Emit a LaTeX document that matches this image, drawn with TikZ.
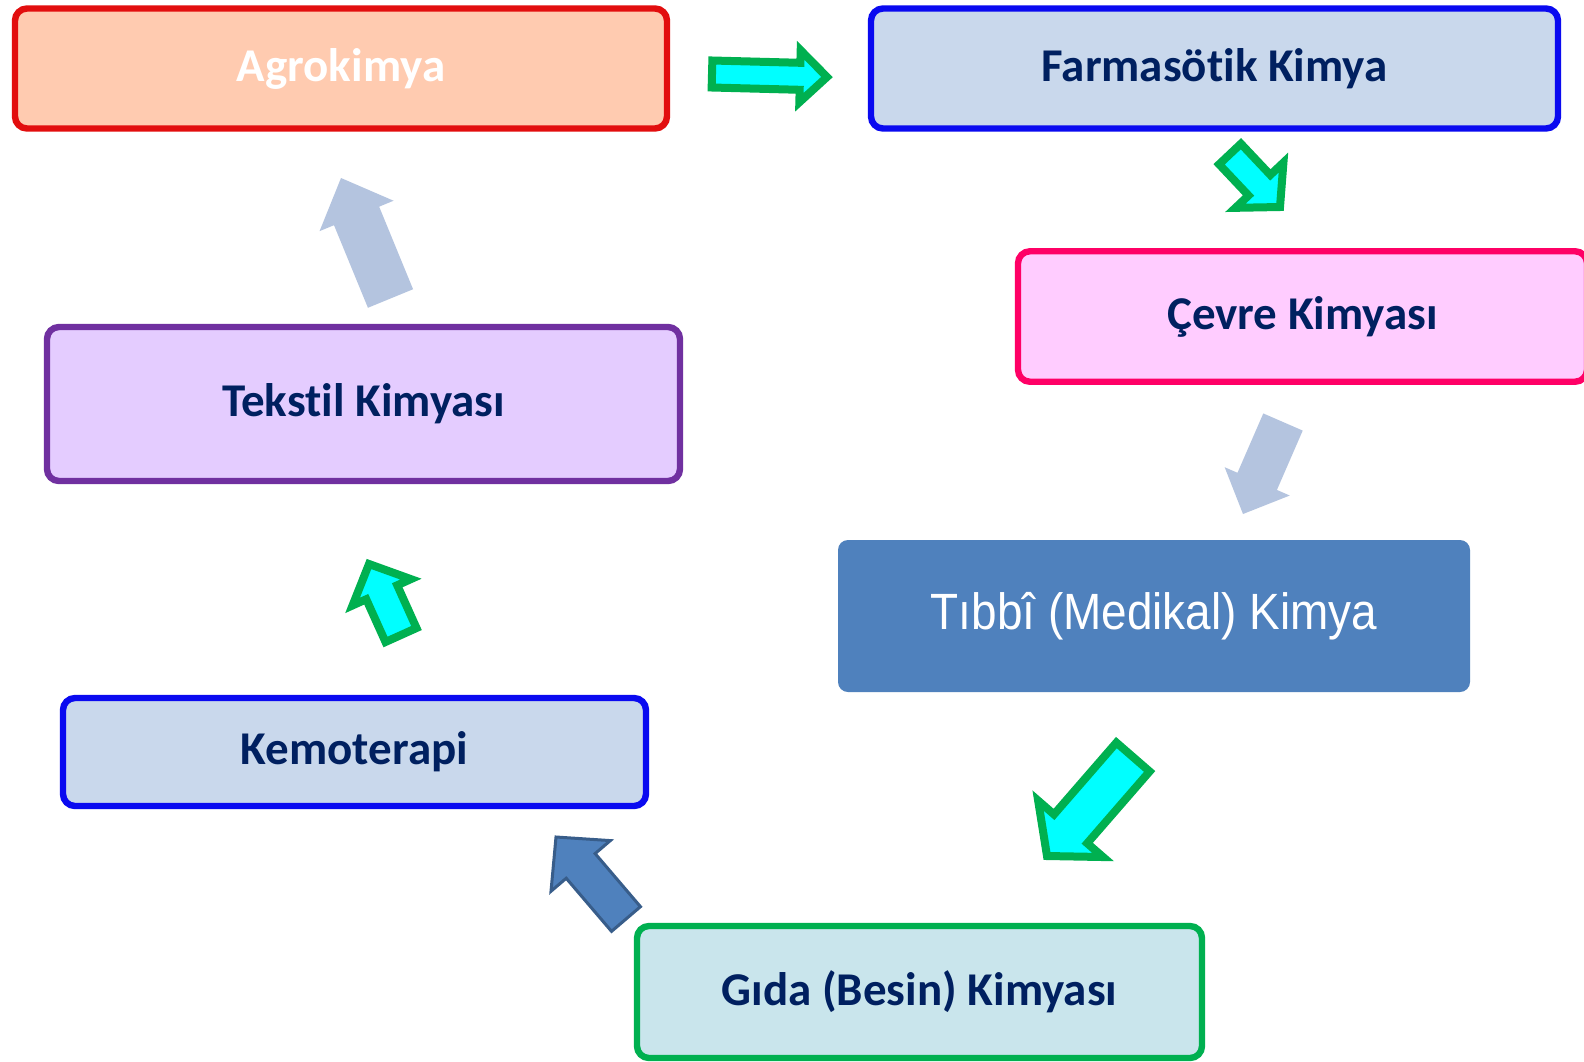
\documentclass[tikz,border=0pt]{standalone}
\usepackage{fontspec}
\setmainfont{Carlito}[Ligatures=CommonOff]
\newfontfamily\arialn[FakeStretch=0.9]{Liberation Sans}
\usetikzlibrary{calc}
\definecolor{navy}{HTML}{002060}
\definecolor{redb}{HTML}{E20E0E}
\definecolor{peach}{HTML}{FFCBB0}
\definecolor{blueb}{HTML}{0A0AF0}
\definecolor{paleblue}{HTML}{C9D8EC}
\definecolor{pinkb}{HTML}{FF0066}
\definecolor{pinkf}{HTML}{FFCCFF}
\definecolor{medblue}{HTML}{4F81BD}
\definecolor{darkblue}{HTML}{385D8A}
\definecolor{agreen}{HTML}{00B050}
\definecolor{aqua}{HTML}{00FFFF}
\definecolor{palecyan}{HTML}{C9E5EC}
\definecolor{purpleb}{HTML}{7030A0}
\definecolor{lilac}{HTML}{E4CCFF}
\definecolor{grayblue}{HTML}{B4C4DF}
\newcommand\blkarrow[6]{%
  \pgfmathsetmacro\bas{#4*0.5}\pgfmathsetmacro\bah{#5*0.5}\pgfmathsetmacro\bal{#6*0.5}%
  \coordinate (hb) at ($(#3)!\bal pt!(#2)$);
  \path[#1] ($(#2)!\bas pt!90:(#3)$) -- ($(hb)!\bas pt!90:(#3)$) -- ($(hb)!\bah pt!90:(#3)$) -- (#3)
    -- ($(hb)!\bah pt!-90:(#3)$) -- ($(hb)!\bas pt!-90:(#3)$) -- ($(#2)!\bas pt!-90:(#3)$) -- cycle;}
\tikzset{
  box/.style={rounded corners=6pt, line width=3.2pt, font=\fontsize{23.5}{28}\selectfont\bfseries,
    text=navy, align=center, inner sep=0pt},
  greenarrow/.style={draw=agreen, line width=4pt, fill=aqua, line join=miter},
  grayarrow/.style={fill=grayblue},
  bluearrow/.style={draw=darkblue, line width=1.5pt, fill=medblue, line join=miter},
}
\begin{document}
\begin{tikzpicture}[x=0.5pt,y=-0.5pt]
\useasboundingbox (0,0) rectangle (1584,1061);
\fill[white] (0,0) rectangle (1584,1061);
% boxes
\node[box, draw=redb, fill=peach, text=white, minimum width=326pt, minimum height=60pt] (agro) at (341,68.5) {Agrokimya};
\node[box, draw=blueb, fill=paleblue, minimum width=343.5pt, minimum height=60pt] (farma) at (1214.5,68.5) {Farmasöt\kern0pt ik Kimya};
\node[box, draw=pinkb, fill=pinkf, minimum width=284.5pt, minimum height=65.25pt] (cevre) at (1302.5,316.5) {Çevre Kimyası};
\node[rounded corners=5pt, fill=medblue, text=white, inner sep=0pt, minimum width=316pt, minimum height=76pt,
  font=\arialn\fontsize{25.5}{30}\selectfont] (tibbi) at (1154,616) {Tıbbî (Medikal) Kimya};
\node[box, draw=agreen, fill=palecyan, minimum width=282.5pt, minimum height=66pt] (gida) at (919.5,992) {Gıda (Besin) Kimyası};
\node[box, draw=blueb, fill=paleblue, minimum width=291.5pt, minimum height=54pt] (kemo) at (354.5,752) {Kemoterapi};
\node[box, draw=purpleb, fill=lilac, minimum width=316.5pt, minimum height=77pt] (tekstil) at (363.5,404) {Tekst\kern0pt il Kimyası};
% arrow anchors
\coordinate (a1s) at (712,74);   \coordinate (a1e) at (827,77);
\coordinate (a2s) at (1230,154); \coordinate (a2e) at (1280,207);
\coordinate (a3s) at (1283,422); \coordinate (a3e) at (1243,514);
\coordinate (a4s) at (1133,757); \coordinate (a4e) at (1047,856);
\coordinate (a5s) at (626,919);  \coordinate (a5e) at (556,837);
\coordinate (a6s) at (401,635);  \coordinate (a6e) at (369,564);
\coordinate (a7s) at (390.5,298.5); \coordinate (a7e) at (341,178);
% arrows
\blkarrow{greenarrow}{a1s}{a1e}{13.5}{26}{27}
\blkarrow{greenarrow}{a2s}{a2e}{15}{33}{30}
\blkarrow{grayarrow}{a3s}{a3e}{21.5}{35.5}{35.6}
\blkarrow{greenarrow}{a4s}{a4e}{22}{43}{36}
\blkarrow{bluearrow}{a5s}{a5e}{19}{39}{38}
\blkarrow{greenarrow}{a6s}{a6e}{17}{32}{31}
\blkarrow{grayarrow}{a7s}{a7e}{24.4}{40}{41}
\end{tikzpicture}
\end{document}
